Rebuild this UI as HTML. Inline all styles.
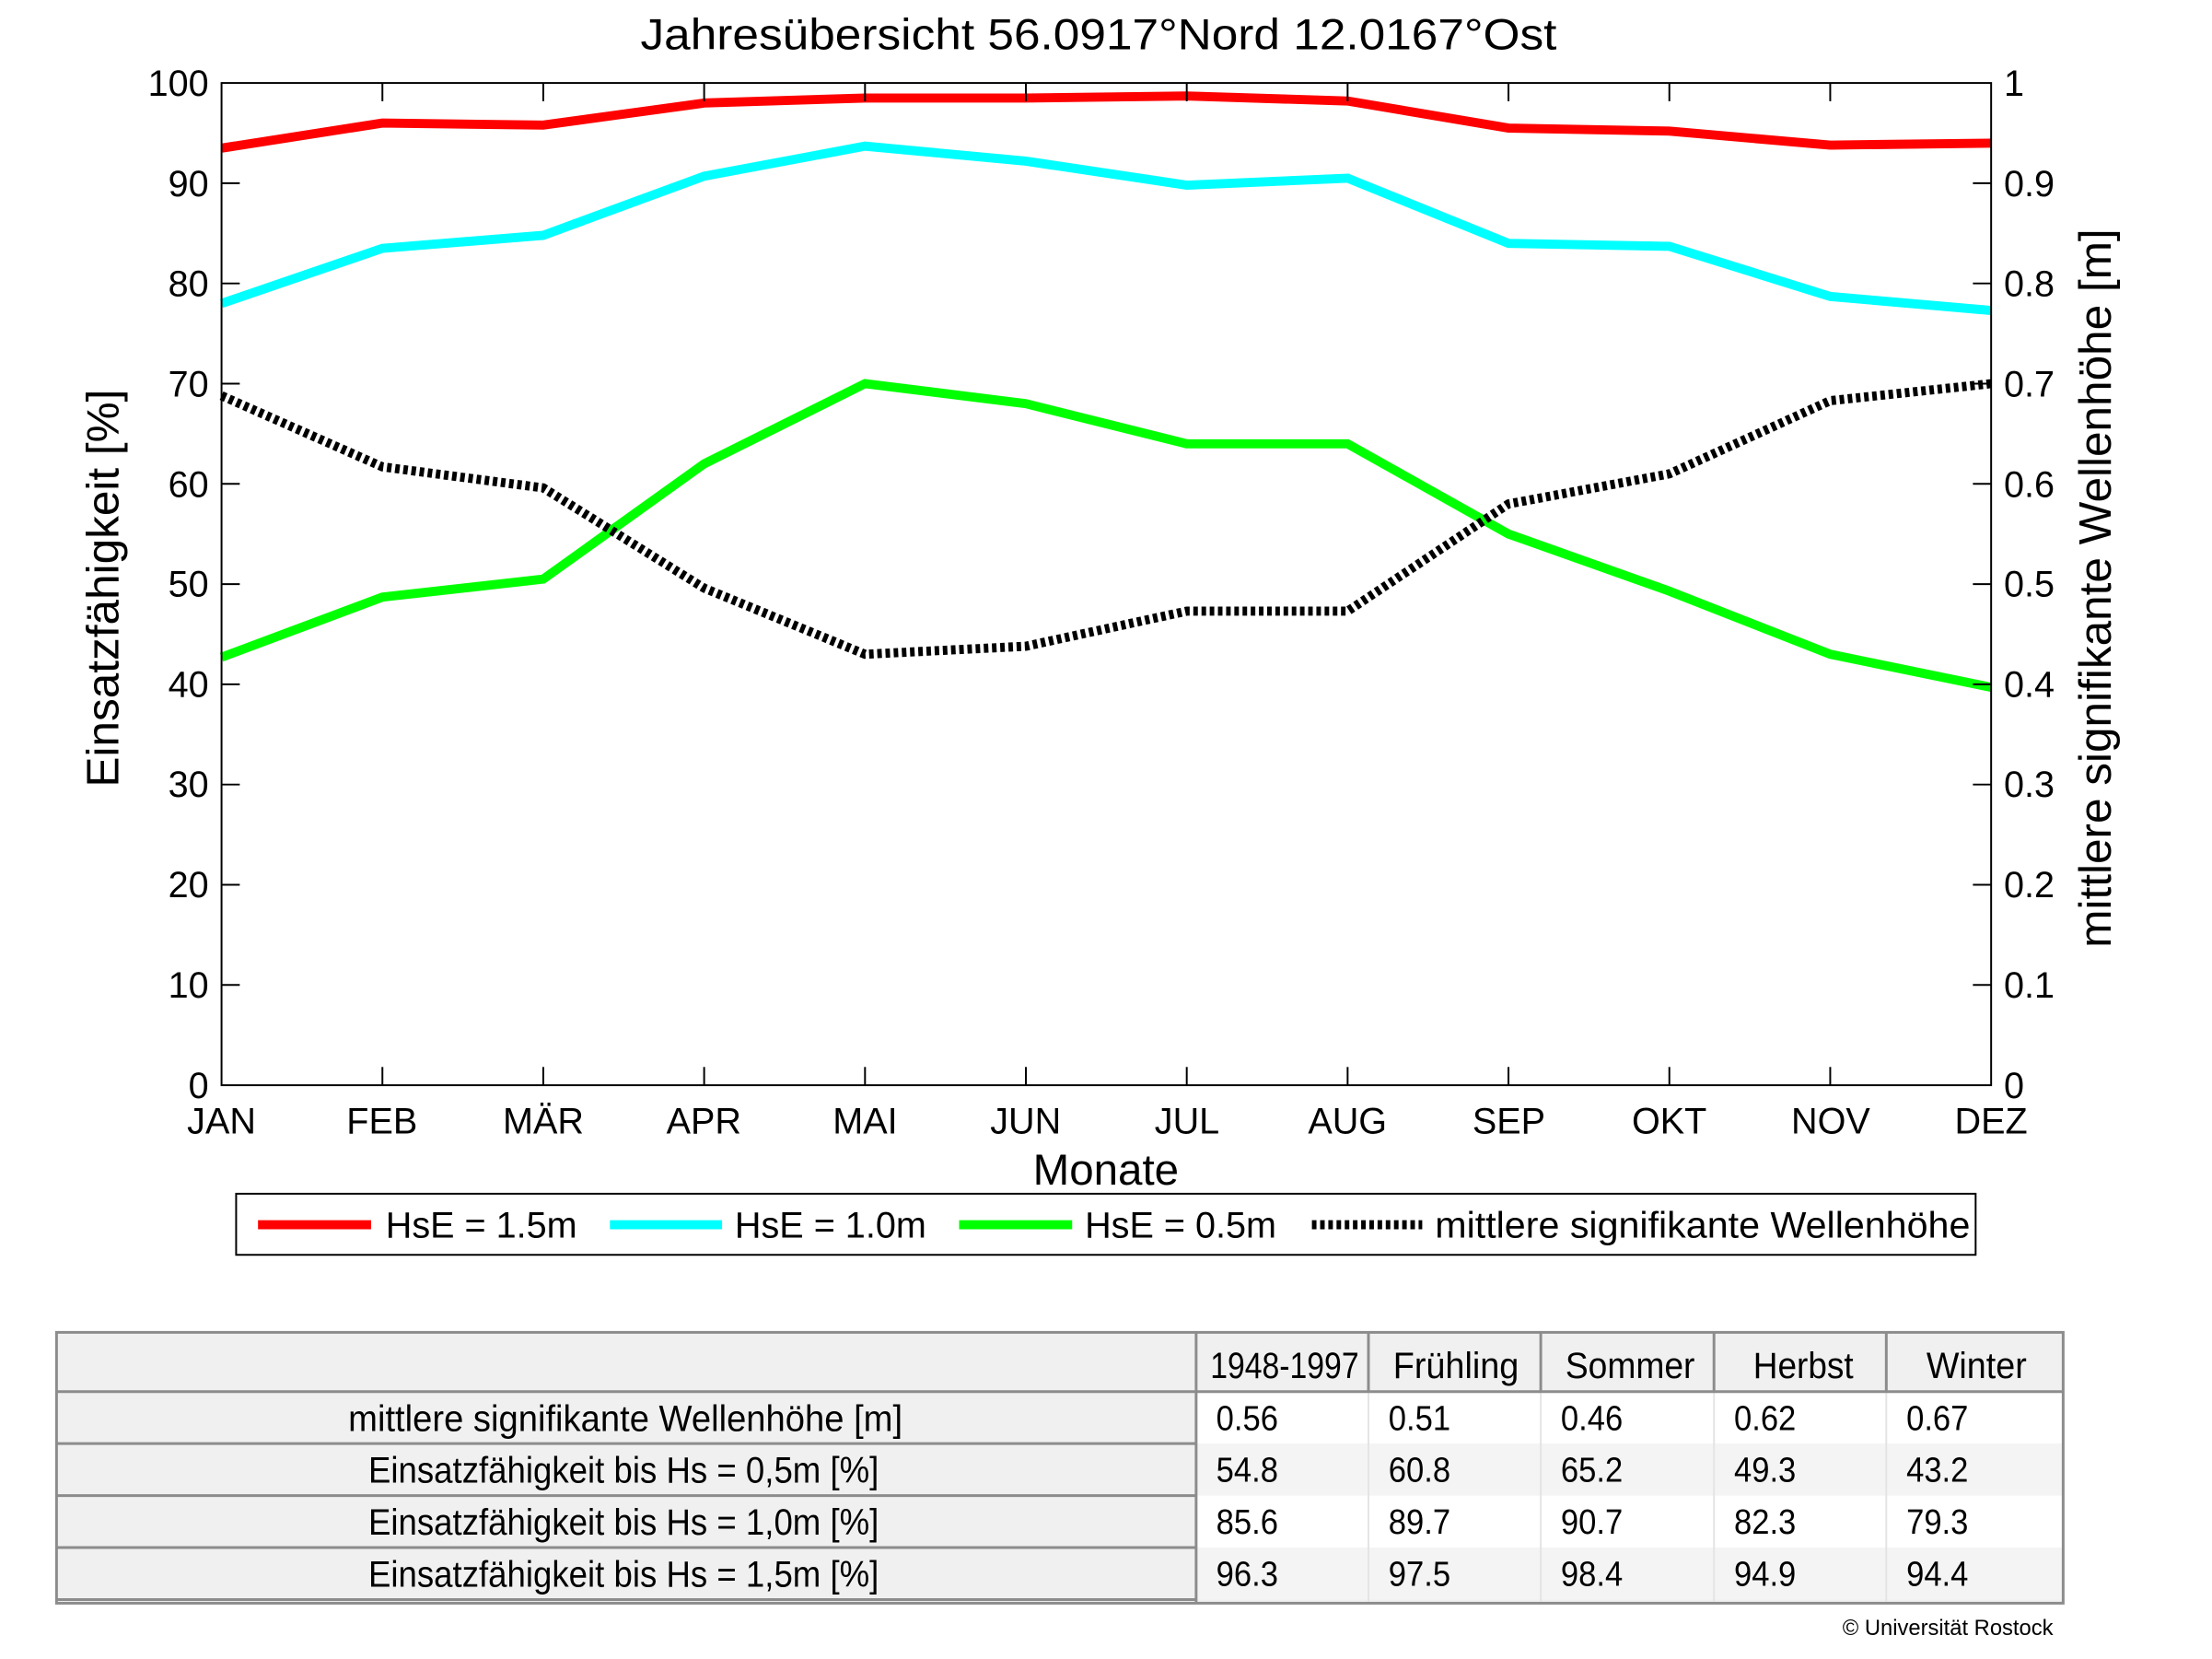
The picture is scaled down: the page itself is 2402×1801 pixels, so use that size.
<!DOCTYPE html>
<html><head><meta charset="utf-8"><style>
html,body{margin:0;padding:0;background:#fff;}
svg{display:block;}
text{font-family:"Liberation Sans",sans-serif;fill:#000;}
</style></head><body>
<svg id="s" width="2402" height="1801" viewBox="0 0 2402 1801" xmlns="http://www.w3.org/2000/svg">
<g transform="scale(0.99)">
<text x="1205" y="54" font-size="48" text-anchor="middle" textLength="1005" lengthAdjust="spacingAndGlyphs">Jahresübersicht  56.0917°Nord  12.0167°Ost</text>
<g id="plot"></g>
<rect x="243" y="91" width="1941" height="1099" fill="none" stroke="#000" stroke-width="2"/>
<g id="ticks" stroke="#000" stroke-width="2"></g>
<g font-size="40" text-anchor="end" id="yl">
<text x="229" y="1204">0</text><text x="229" y="1094">10</text><text x="229" y="984">20</text><text x="229" y="874">30</text><text x="229" y="764">40</text><text x="229" y="654">50</text><text x="229" y="545">60</text><text x="229" y="435">70</text><text x="229" y="325">80</text><text x="229" y="215">90</text><text x="229" y="105">100</text>
</g>
<g font-size="40">
<text x="2198" y="1204">0</text><text x="2198" y="1094">0.1</text><text x="2198" y="984">0.2</text><text x="2198" y="874">0.3</text><text x="2198" y="764">0.4</text><text x="2198" y="654">0.5</text><text x="2198" y="545">0.6</text><text x="2198" y="435">0.7</text><text x="2198" y="325">0.8</text><text x="2198" y="215">0.9</text><text x="2198" y="105">1</text>
</g>
<g font-size="40" text-anchor="middle">
<text x="243" y="1243">JAN</text><text x="419" y="1243">FEB</text><text x="596" y="1243">MÄR</text><text x="772" y="1243">APR</text><text x="949" y="1243">MAI</text><text x="1125" y="1243">JUN</text><text x="1302" y="1243">JUL</text><text x="1478" y="1243">AUG</text><text x="1655" y="1243">SEP</text><text x="1831" y="1243">OKT</text><text x="2008" y="1243">NOV</text><text x="2184" y="1243">DEZ</text>
</g>
<text x="1213" y="1299" font-size="48" text-anchor="middle">Monate</text>
<text transform="translate(130,645) rotate(-90)" font-size="50" text-anchor="middle">Einsatzfähigkeit [%]</text>
<text transform="translate(2315,645) rotate(-90)" font-size="50" text-anchor="middle">mittlere signifikante Wellenhöhe [m]</text>
<rect x="259" y="1309" width="1908" height="67" fill="#fff" stroke="#000" stroke-width="2"/>
<line x1="283" y1="1343" x2="407" y2="1343" stroke="#f00" stroke-width="10"/>
<line x1="669" y1="1343" x2="792" y2="1343" stroke="#0ff" stroke-width="10"/>
<line x1="1052" y1="1343" x2="1176" y2="1343" stroke="#0f0" stroke-width="10"/>
<line x1="1439" y1="1343" x2="1560" y2="1343" stroke="#000" stroke-width="10" stroke-dasharray="5,4"/>
<g font-size="40">
<text x="423" y="1357">HsE = 1.5m</text>
<text x="806" y="1357">HsE = 1.0m</text>
<text x="1190" y="1357">HsE = 0.5m</text>
<text x="1574" y="1357" textLength="587" lengthAdjust="spacingAndGlyphs">mittlere signifikante Wellenhöhe</text>
</g>
<g>
<rect x="62" y="1461" width="2201" height="297" fill="#f0f0f0"/>
<rect x="1312" y="1526" width="951" height="57" fill="#fff"/>
<rect x="1312" y="1583" width="951" height="57" fill="#f4f4f4"/>
<rect x="1312" y="1640" width="951" height="57" fill="#fff"/>
<rect x="1312" y="1697" width="951" height="57" fill="#f4f4f4"/>
<g stroke="#e4e4e4" stroke-width="2">
<line x1="1501" y1="1526" x2="1501" y2="1756"/><line x1="1690" y1="1526" x2="1690" y2="1756"/><line x1="1880" y1="1526" x2="1880" y2="1756"/><line x1="2069" y1="1526" x2="2069" y2="1756"/>
</g>
<g stroke="#8c8c8c" stroke-width="3" fill="none">
<rect x="62" y="1461" width="2201" height="297"/>
<line x1="62" y1="1526" x2="2263" y2="1526"/>
<line x1="1312" y1="1461" x2="1312" y2="1758"/>
<line x1="1501" y1="1461" x2="1501" y2="1526"/><line x1="1690" y1="1461" x2="1690" y2="1526"/><line x1="1880" y1="1461" x2="1880" y2="1526"/><line x1="2069" y1="1461" x2="2069" y2="1526"/>
<line x1="62" y1="1583" x2="1312" y2="1583"/><line x1="62" y1="1640" x2="1312" y2="1640"/><line x1="62" y1="1697" x2="1312" y2="1697"/><line x1="62" y1="1754" x2="1312" y2="1754"/>
</g>
<g font-size="40" text-anchor="middle">
<text x="1409" y="1511" textLength="163" lengthAdjust="spacingAndGlyphs">1948-1997</text>
<text x="1597" y="1511" textLength="138" lengthAdjust="spacingAndGlyphs">Frühling</text>
<text x="1788" y="1511" textLength="142" lengthAdjust="spacingAndGlyphs">Sommer</text>
<text x="1978" y="1511" textLength="110" lengthAdjust="spacingAndGlyphs">Herbst</text>
<text x="2168" y="1511" textLength="110" lengthAdjust="spacingAndGlyphs">Winter</text>
<text x="686" y="1569" textLength="608" lengthAdjust="spacingAndGlyphs">mittlere signifikante Wellenhöhe [m]</text>
<text x="684" y="1626" textLength="560" lengthAdjust="spacingAndGlyphs">Einsatzfähigkeit bis Hs = 0,5m [%]</text>
<text x="684" y="1683" textLength="560" lengthAdjust="spacingAndGlyphs">Einsatzfähigkeit bis Hs = 1,0m [%]</text>
<text x="684" y="1740" textLength="560" lengthAdjust="spacingAndGlyphs">Einsatzfähigkeit bis Hs = 1,5m [%]</text>
</g>
<g font-size="38" id="nums"></g>
</g>
<text x="2252" y="1793" font-size="24" text-anchor="end">© Universität Rostock</text>
</g>
</svg>
<script>
var NS="http://www.w3.org/2000/svg";
function X(i){return 243+176.45*i;}
function Y(v){return 1190-10.99*v;}
var S={"#f00":[93.5,96,95.8,98,98.5,98.5,98.7,98.2,95.5,95.2,93.8,94],
"#0ff":[78,83.5,84.8,90.7,93.7,92.2,89.8,90.5,84,83.7,78.7,77.3],
"#0f0":[42.7,48.7,50.5,62,70,68,64,64,55,49.3,43,39.7],
"#000":[68.8,61.7,59.6,49.6,43,43.8,47.3,47.3,58,61,68.3,70]};
var g=document.getElementById("plot");
for(var c in S){var p=document.createElementNS(NS,"polyline");
p.setAttribute("points",S[c].map(function(v,i){return X(i)+","+Y(v);}).join(" "));
p.setAttribute("fill","none");p.setAttribute("stroke",c);p.setAttribute("stroke-width","10");
if(c=="#000"){p.setAttribute("stroke-dasharray","5,4");}
g.appendChild(p);}
var t=document.getElementById("ticks"),h="";
for(var i=1;i<11;i++){h+='<line x1="'+X(i)+'" y1="1190" x2="'+X(i)+'" y2="1170"/><line x1="'+X(i)+'" y1="91" x2="'+X(i)+'" y2="111"/>';}
for(var k=1;k<10;k++){var y=Y(k*10);h+='<line x1="243" y1="'+y+'" x2="263" y2="'+y+'"/><line x1="2184" y1="'+y+'" x2="2164" y2="'+y+'"/>';}
t.innerHTML=h;
var D=[["0.56","0.51","0.46","0.62","0.67"],["54.8","60.8","65.2","49.3","43.2"],["85.6","89.7","90.7","82.3","79.3"],["96.3","97.5","98.4","94.9","94.4"]];
var cx=[1334,1523,1712,1902,2091],n="";
D.forEach(function(r,ri){r.forEach(function(v,ci){n+='<text x="'+cx[ci]+'" y="'+(1568+57*ri)+'" textLength="'+(v.length*17)+'" lengthAdjust="spacingAndGlyphs">'+v+'</text>';});});
document.getElementById("nums").innerHTML=n;
</script>
</body></html>
